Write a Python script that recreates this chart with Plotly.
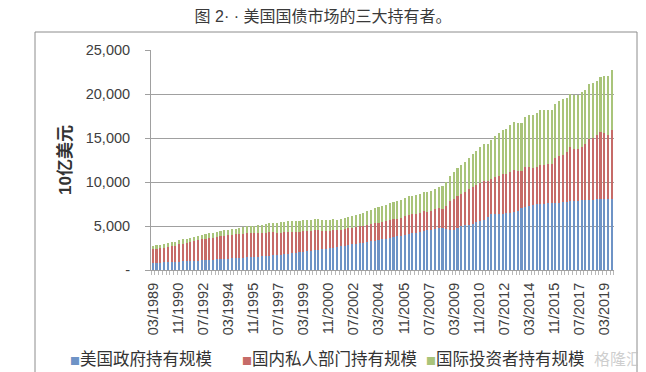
import plotly.graph_objects as go

# Quarterly observations, 03/1989 .. 09/2019 (123 quarters)
QUARTERS = [f"{y}-{m:02d}-01" for y in range(1989, 2020) for m in (3, 6, 9, 12)][:123]

# 美国政府持有规模 (10亿美元)
GOV = [
    800, 820, 840, 860,
    880, 900, 930, 950,
    970, 1000, 1030, 1050,
    1070, 1100, 1130, 1150,
    1170, 1200, 1230, 1260,
    1280, 1310, 1340, 1370,
    1400, 1440, 1470, 1500,
    1530, 1570, 1610, 1640,
    1670, 1720, 1760, 1790,
    1840, 1900, 1950, 2000,
    2040, 2110, 2170, 2230,
    2300, 2380, 2440, 2490,
    2540, 2640, 2700, 2750,
    2800, 2900, 2970, 3030,
    3090, 3200, 3270, 3340,
    3400, 3510, 3580, 3650,
    3720, 3830, 3900, 3970,
    4040, 4160, 4220, 4310,
    4390, 4510, 4580, 4660,
    4720, 4780, 4640, 4560,
    4600, 4800, 4990, 5080,
    5150, 5260, 5400, 5560,
    5650, 6030, 6350, 6350,
    6380, 6420, 6440, 6480,
    6590, 6760, 6990, 7210,
    7300, 7400, 7450, 7490,
    7500, 7560, 7580, 7620,
    7630, 7700, 7780, 7820,
    7840, 7880, 7940, 7960,
    7970, 8000, 8020, 8020,
    8030, 8050, 8030,
]

# 国内私人部门持有规模
PRIVATE = [
    1550, 1580, 1610, 1660,
    1730, 1800, 1850, 1950,
    2030, 2060, 2150, 2260,
    2310, 2370, 2410, 2480,
    2500, 2570, 2580, 2660,
    2670, 2700, 2700, 2770,
    2740, 2730, 2680, 2650,
    2690, 2630, 2620, 2630,
    2610, 2510, 2460, 2480,
    2460, 2400, 2320, 2330,
    2340, 2270, 2210, 2280,
    2200, 2060, 2000, 1950,
    2030, 1880, 1870, 1930,
    1920, 1890, 1870, 1950,
    1910, 1940, 1930, 2040,
    1990, 1960, 1940, 2060,
    2110, 2010, 2000, 2170,
    2250, 2160, 2140, 2170,
    2260, 2110, 2120, 2220,
    2270, 2190, 2690, 3240,
    3480, 3600, 3650, 3780,
    4000, 4190, 4260, 4370,
    4420, 4060, 4040, 4170,
    4350, 4440, 4480, 4650,
    4730, 4530, 4250, 4490,
    4350, 4210, 4300, 4490,
    4480, 4430, 4460, 5150,
    5350, 5400, 5640, 6160,
    5930, 5820, 6000, 6320,
    6870, 6990, 7280, 7680,
    7570, 7340, 7830,
]

# 国际投资者持有规模
FOREIGN = [
    390, 400, 410, 430,
    440, 445, 450, 460,
    470, 480, 490, 495,
    505, 520, 530, 550,
    565, 585, 600, 620,
    630, 640, 650, 660,
    720, 780, 820, 840,
    900, 960, 1000, 1050,
    1100, 1150, 1190, 1230,
    1240, 1250, 1260, 1280,
    1270, 1260, 1280, 1270,
    1270, 1250, 1230, 1220,
    1200, 1210, 1240, 1260,
    1290, 1340, 1390, 1430,
    1460, 1530, 1580, 1620,
    1740, 1800, 1860, 1890,
    1950, 2000, 2030, 2030,
    2080, 2100, 2150, 2200,
    2200, 2250, 2310, 2350,
    2450, 2520, 2700, 2900,
    3050, 3150, 3270, 3450,
    3620, 3750, 3900, 4100,
    4200, 4250, 4400, 4700,
    4850, 5000, 5150, 5300,
    5450, 5450, 5500, 5650,
    5950, 6020, 6070, 6160,
    6170, 6160, 6110, 6150,
    6280, 6280, 6150, 6000,
    6080, 6150, 6300, 6210,
    6250, 6210, 6220, 6270,
    6430, 6630, 6860,
]

SERIES_NAMES = ["美国政府持有规模", "国内私人部门持有规模", "国际投资者持有规模"]
COLORS = ["#6E93C6", "#C66B68", "#A9C47A"]

TICK_LABELS = ["03/1989", "11/1990", "07/1992", "03/1994", "11/1995", "07/1997",
               "03/1999", "11/2000", "07/2002", "03/2004", "11/2005", "07/2007",
               "03/2009", "11/2010", "07/2012", "03/2014", "11/2015", "07/2017",
               "03/2019"]
TICK_DATES = [f"{s[3:]}-{s[:2]}-01" for s in TICK_LABELS]

Y_TICKS = [0, 5000, 10000, 15000, 20000, 25000]
Y_TICKTEXT = ["-", "5,000", "10,000", "15,000", "20,000", "25,000"]

TITLE = "图 2· · 美国国债市场的三大持有者。"
Y_TITLE = "<b>10亿美元</b>"

# the page body adds an 8px offset; figure is sized/positioned to compensate
W, H = 638, 364
PL, PR, PT, PB = 143, 606, 42, 262  # plot area in figure pixels
PW, PH = PR - PL, PB - PT


def px(xf):
    return (xf - PL) / PW


def py(yf):
    return (PB - yf) / PH


fig = go.Figure()
for name, vals, col in zip(SERIES_NAMES, [GOV, PRIVATE, FOREIGN], COLORS):
    fig.add_trace(go.Bar(x=QUARTERS, y=vals, name=name, marker_color=col,
                         marker_line_width=0, showlegend=False))

grid = "#A0A0A0"
latin_cjk = "Liberation Sans, Noto Sans CJK SC, sans-serif"
fig.update_layout(
    width=W, height=H,
    margin=dict(l=PL, r=W - PR, t=PT, b=H - PB, autoexpand=False),
    barmode="stack", bargap=0.58,
    paper_bgcolor="white", plot_bgcolor="white",
    font=dict(family="Liberation Sans, Arial, sans-serif", color="#333333"),
    title=dict(text=TITLE, x=(323 - 8) / W, xref="container", xanchor="center",
               y=1 - 8 / H, yref="container", yanchor="middle",
               font=dict(family=latin_cjk, size=16, color="#3A3A3A")),
    xaxis=dict(type="date", range=["1989-01-12", "2019-10-19"],
               tickvals=TICK_DATES, ticktext=TICK_LABELS, tickangle=-90,
               showgrid=False, showline=True, linecolor=grid, linewidth=1,
               ticks="outside", ticklen=6, tickcolor="rgba(0,0,0,0)",
               minor=dict(ticks="outside", ticklen=4, dtick="M3",
                          tick0="1989-01-16", tickcolor="#B8B8B8", showgrid=False),
               tickfont=dict(size=14.5, color="#404040")),
    yaxis=dict(range=[0, 25000], tickvals=Y_TICKS, ticktext=Y_TICKTEXT,
               showgrid=True, gridcolor=grid, gridwidth=1,
               showline=True, linecolor=grid, linewidth=1, zeroline=False,
               ticks="outside", ticklen=5, tickcolor=grid,
               ticklabelstandoff=12,
               tickfont=dict(size=14.5, color="#404040"),
               title=dict(text=Y_TITLE, standoff=9,
                          font=dict(family=latin_cjk, size=17, color="#333333"))),
)

# outer frame
fig.add_shape(type="rect", xref="paper", yref="paper",
              x0=px(27), x1=px(629), y0=py(380), y1=py(24),
              line=dict(color="#8C8C8C", width=1), fillcolor="rgba(0,0,0,0)")

# legend row
leg_y = py(350)
for name, col, xf in zip(SERIES_NAMES, COLORS, [60, 232, 416]):
    fig.add_annotation(
        x=px(xf), y=leg_y, xref="paper", yref="paper",
        xanchor="left", yanchor="middle", showarrow=False,
        text=f"<span style='color:{col};font-size:10px'>■</span>{name}",
        font=dict(family="Noto Sans CJK SC", size=16.5, color="#333333"))

# watermark
fig.add_annotation(x=px(610), y=leg_y, xref="paper", yref="paper",
                   xanchor="center", yanchor="middle", showarrow=False,
                   text="格隆汇", font=dict(family="Noto Sans CJK SC", size=16,
                                          color="rgba(190,190,190,0.75)"))

fig.write_html("out.html")
